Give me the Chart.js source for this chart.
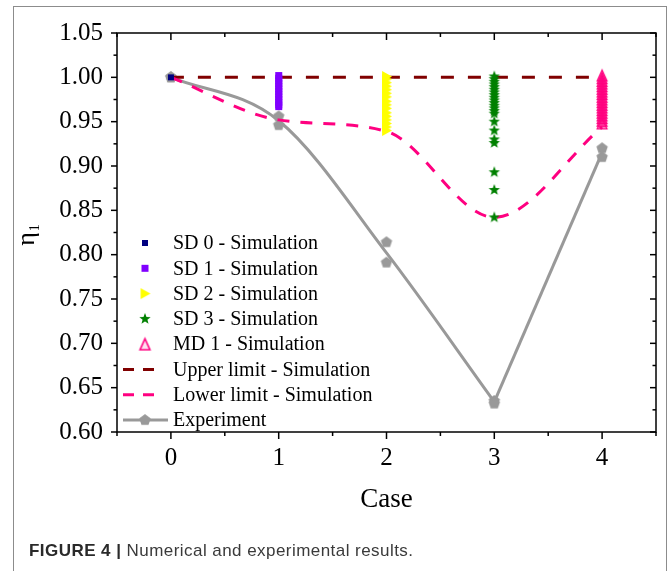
<!DOCTYPE html>
<html>
<head>
<meta charset="utf-8">
<script src="https://cdn.jsdelivr.net/npm/chart.js@4.4.0/dist/chart.umd.min.js"></script>
<style>
  html, body { margin: 0; padding: 0; background: #fff; }
  #wrap { position: relative; width: 669px; height: 571px; overflow: hidden; }
  #frame { position: absolute; left: 13px; top: 6px; width: 652px; height: 620px; border: 1px solid #8c8c8c; }
  #chart { position: absolute; left: 0; top: 0; }
  #caption { position: absolute; left: 29px; top: 541px; font: 17px "Liberation Sans", Arial, sans-serif; letter-spacing: 0.45px; line-height: 19px; color: #3a3a3a; white-space: nowrap; }
  #caption b { color: #2a2a2a; }
</style>
</head>
<body>
<div id="wrap">
  <div id="frame"></div>
  <canvas id="chart" width="669" height="571"></canvas>
  <div id="caption"><b>FIGURE 4 |</b> Numerical and experimental results.</div>
</div>
<script>
// values
const caseTicks = [0, 1, 2, 3, 4]
const etaTicks = [0.60, 0.65, 0.70, 0.75, 0.80, 0.85, 0.90, 0.95, 1.00, 1.05]

const expHigh = [1.000, 0.956, 0.814, 0.635, 0.920]
const expLow = [1.000, 0.946, 0.791, 0.632, 0.910]
const expCurve = [1.000, 0.951, 0.802, 0.634, 0.915]
const upperLimit = [1.000, 1.000, 1.000, 1.000, 1.000]
const lowerLimit = [1.000, 0.952, 0.939, 0.842, 0.944]

const sd0 = [1.000]
const sd1 = [1.002, 0.999, 0.996, 0.993, 0.990, 0.987, 0.984, 0.981, 0.978, 0.975, 0.972, 0.969, 0.967]
const sd2 = [1.001, 0.998, 0.994, 0.990, 0.986, 0.982, 0.978, 0.973, 0.969, 0.965, 0.960, 0.956, 0.952, 0.948, 0.944, 0.940]
const sd3 = [1.001, 0.998, 0.995, 0.992, 0.989, 0.986, 0.983, 0.980, 0.977, 0.974, 0.971, 0.968, 0.965, 0.962, 0.959,
  0.950, 0.940, 0.930, 0.926, 0.893, 0.873, 0.842]
const md1 = [1.002, 0.999, 0.996, 0.993, 0.990, 0.987, 0.984, 0.981, 0.978, 0.975, 0.972, 0.969, 0.966, 0.963, 0.960,
  0.957, 0.954, 0.951, 0.948]

const SERIF = '"Liberation Serif", "Times New Roman", serif'
const GRAY = '#999999'
const DARKRED = '#800000'
const PINK = '#ff0080'

function makeMarker (shape, size, fill, stroke, lw) {
  const c = document.createElement('canvas')
  const s = Math.ceil(size + 2 * (lw || 0) + 2)
  c.width = s
  c.height = s
  const g = c.getContext('2d')
  g.translate(s / 2, s / 2)
  const r = size / 2
  g.beginPath()
  if (shape === 'square') {
    g.rect(-r, -r, size, size)
  } else if (shape === 'triUp') {
    g.moveTo(0, -r); g.lineTo(r * 0.9, r); g.lineTo(-r * 0.9, r)
  } else if (shape === 'triRight') {
    g.moveTo(r, 0); g.lineTo(-r * 0.8, r); g.lineTo(-r * 0.8, -r)
  } else if (shape === 'star') {
    for (let i = 0; i < 10; i++) {
      const a = -Math.PI / 2 + i * Math.PI / 5
      const rr = i % 2 ? r * 0.42 : r
      g.lineTo(Math.cos(a) * rr, Math.sin(a) * rr)
    }
  } else if (shape === 'pentagon') {
    for (let i = 0; i < 5; i++) {
      const a = -Math.PI / 2 + i * 2 * Math.PI / 5
      g.lineTo(Math.cos(a) * r, Math.sin(a) * r)
    }
  }
  g.closePath()
  g.fillStyle = fill
  g.fill()
  if (stroke) {
    g.strokeStyle = stroke
    g.lineWidth = lw
    g.stroke()
  }
  return c
}

const mSd0 = makeMarker('square', 6, '#000080')
const mSd1 = makeMarker('square', 7, '#8000ff')
const mSd2 = makeMarker('triRight', 11, '#ffff00')
const mSd3 = makeMarker('star', 12, '#008000')
const mMd1 = makeMarker('triUp', 11, 'rgba(255,0,128,0.55)', PINK, 1.2)
const mMd1Key = makeMarker('triUp', 11, 'rgba(255,0,128,0.12)', PINK, 1.6)
const mExp = makeMarker('pentagon', 12, GRAY)

const at = (xv, arr) => arr.map(v => ({ x: xv, y: v }))
const along = arr => arr.map((v, i) => ({ x: caseTicks[i], y: v }))

const expLine = {
  showLine: true, pointRadius: 0, borderColor: GRAY, borderWidth: 3, cubicInterpolationMode: 'monotone'
}

const datasets = [
  { label: 'SD 0 - Simulation', data: at(0, sd0), pointStyle: mSd0, order: 0 },
  { label: 'SD 1 - Simulation', data: at(1, sd1), pointStyle: mSd1, order: 1 },
  { label: 'SD 2 - Simulation', data: at(2, sd2), pointStyle: mSd2, order: 2 },
  { label: 'SD 3 - Simulation', data: at(3, sd3), pointStyle: mSd3, order: 3 },
  { label: 'MD 1 - Simulation', data: at(4, md1), pointStyle: mMd1, order: 4 },
  {
    label: 'Lower limit - Simulation', data: along(lowerLimit), showLine: true, pointRadius: 0,
    borderColor: PINK, borderWidth: 3, borderDash: [12, 11], cubicInterpolationMode: 'monotone', order: 5
  },
  {
    label: 'Upper limit - Simulation', data: along(upperLimit), showLine: true, pointRadius: 0,
    borderColor: DARKRED, borderWidth: 3, borderDash: [13, 14], order: 6
  },
  { label: 'Experiment', data: along(expHigh).concat(along(expLow)), pointStyle: mExp, order: 7 },
  // the fitted curve is smooth down to case 3 and straight from 3 to 4
  { label: 'Experiment curve', data: along(expCurve).slice(0, 4), ...expLine, order: 8 },
  { label: 'Experiment curve', data: along(expCurve).slice(3), ...expLine, order: 9 }
]

const legendItems = [
  { text: 'SD 0 - Simulation', img: mSd0 },
  { text: 'SD 1 - Simulation', img: mSd1 },
  { text: 'SD 2 - Simulation', img: mSd2 },
  { text: 'SD 3 - Simulation', img: mSd3 },
  { text: 'MD 1 - Simulation', img: mMd1Key },
  { text: 'Upper limit - Simulation', color: DARKRED, dash: [11, 9] },
  { text: 'Lower limit - Simulation', color: PINK, dash: [11, 9] },
  { text: 'Experiment', color: GRAY, dash: [], img: mExp }
]

const framePlugin = {
  id: 'frame',
  afterDraw (chart) {
    const { ctx, chartArea: a, scales: { x, y } } = chart
    ctx.save()
    ctx.strokeStyle = '#000'
    ctx.lineWidth = 1.5
    ctx.strokeRect(a.left, a.top, a.right - a.left, a.bottom - a.top)

    const tick = (x1, y1, x2, y2) => {
      ctx.beginPath(); ctx.moveTo(x1, y1); ctx.lineTo(x2, y2); ctx.stroke()
    }
    const xMinor = [-0.5].concat(caseTicks.map(v => v + 0.5))
    caseTicks.forEach(v => {
      const px = x.getPixelForValue(v)
      tick(px, a.bottom, px, a.bottom + 7)
      tick(px, a.top, px, a.top + 7)
    })
    xMinor.forEach(v => {
      const px = x.getPixelForValue(v)
      tick(px, a.bottom, px, a.bottom + 4)
      tick(px, a.top, px, a.top + 4)
    })
    const yMinor = etaTicks.slice(1).map((v, i) => (v + etaTicks[i]) / 2)
    etaTicks.forEach(v => {
      const py = y.getPixelForValue(v)
      tick(a.left - 6, py, a.left, py)
      tick(a.right - 6, py, a.right, py)
    })
    yMinor.forEach(v => {
      const py = y.getPixelForValue(v)
      tick(a.left - 3.5, py, a.left, py)
      tick(a.right - 3.5, py, a.right, py)
    })

    // legend inside the plot
    ctx.font = '20px ' + SERIF
    ctx.fillStyle = '#000'
    ctx.textBaseline = 'middle'
    ctx.textAlign = 'left'
    legendItems.forEach((it, i) => {
      const ly = 243 + i * 25.3
      if (it.color) {
        ctx.strokeStyle = it.color
        ctx.lineWidth = 3
        ctx.setLineDash(it.dash)
        tick(123, ly, it.dash.length ? 161 : 168, ly)
        ctx.setLineDash([])
      }
      if (it.img) ctx.drawImage(it.img, 145 - it.img.width / 2, ly - it.img.height / 2)
      ctx.fillStyle = '#000'
      ctx.fillText(it.text, 173, ly + 1)
    })

    // y axis title: eta with subscript 1
    ctx.translate(34, 236)
    ctx.rotate(-Math.PI / 2)
    ctx.textBaseline = 'alphabetic'
    ctx.font = '26px ' + SERIF
    const w = ctx.measureText('η').width
    ctx.fillText('η', -w / 2 - 3, 0)
    ctx.font = '14px ' + SERIF
    ctx.fillText('1', w / 2 - 2, 5)
    ctx.restore()
  }
}

const tickFont = { family: SERIF, size: 25 }

new Chart(document.getElementById('chart'), {
  type: 'scatter',
  data: { datasets },
  options: {
    responsive: false,
    animation: false,
    events: [],
    layout: { padding: { left: 0, top: 33, right: 13, bottom: 0 } },
    plugins: { legend: { display: false }, tooltip: { enabled: false } },
    scales: {
      x: {
        type: 'linear',
        min: -0.5,
        max: 4.5,
        afterBuildTicks: s => { s.ticks = caseTicks.map(v => ({ value: v })) },
        afterFit: s => { s.height = 139 },
        grid: { display: false, drawTicks: false },
        border: { display: false },
        ticks: { padding: 11, color: '#000', font: tickFont, callback: v => String(v) },
        title: {
          display: true, text: 'Case', color: '#000',
          font: { family: SERIF, size: 27 }, padding: { top: 0, bottom: 55 }
        }
      },
      y: {
        type: 'linear',
        min: 0.6,
        max: 1.05,
        afterBuildTicks: s => { s.ticks = etaTicks.map(v => ({ value: v })) },
        afterFit: s => { s.width = 117 },
        grid: { display: false, drawTicks: false },
        border: { display: false },
        ticks: { padding: 14, color: '#000', font: tickFont, callback: v => v.toFixed(2) }
      }
    }
  },
  plugins: [framePlugin]
})
</script>
</body>
</html>
